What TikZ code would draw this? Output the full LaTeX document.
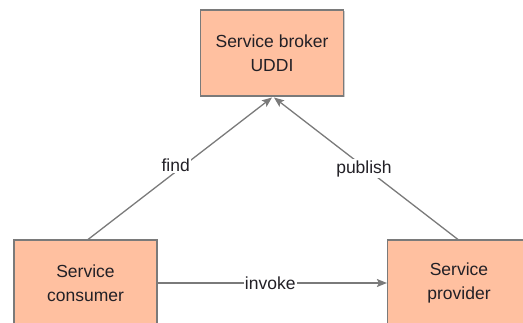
\documentclass[tikz,border=0pt]{standalone}
\usepackage{fontspec}
\setmainfont{Liberation Sans}
\usetikzlibrary{arrows.meta,shadows}
\definecolor{boxfill}{HTML}{FFC0A0}
\definecolor{edgegray}{HTML}{7A7A7A}
\definecolor{txt}{HTML}{222026}
\tikzset{
  svcbox/.style={draw=edgegray, line width=1.2pt, fill=boxfill, text=txt,
    minimum width=143pt, minimum height=86pt, align=center, inner sep=0pt,
    font=\fontsize{17.5}{23.5}\selectfont,
    drop shadow={shadow xshift=1.2pt, shadow yshift=-1.2pt, fill=gray, opacity=0.4}},
  conn/.style={draw=edgegray, line width=1.3pt,
    -{Stealth[length=10pt,width=8pt,inset=2pt]}},
  lbl/.style={fill=white, text=txt, inner sep=1pt, font=\fontsize{17.5}{20}\selectfont}
}
\begin{document}
\begin{tikzpicture}[x=1pt,y=-1pt]
\useasboundingbox (0,0) rectangle (523,322);
\node[svcbox] (broker) at (272,53) {Service broker\\UDDI};
\node[svcbox] (consumer) at (85.5,283) {Service\\consumer};
\node[svcbox] (provider) at (459,283) {Service\\provider};
\coordinate (tipA) at (272,97.5);
\coordinate (tipB) at (274,97.5);
\coordinate (cs) at (88,239.5);
\coordinate (ps) at (458,239.5);
\draw[conn] (cs) -- node[lbl, pos=0.52, xshift=-8pt] {find} (tipA);
\draw[conn] (ps) -- node[lbl, pos=0.5, xshift=-2pt] {publish} (tipB);
\draw[conn] (consumer.east |- 0,283) -- node[lbl, xshift=-2pt] {invoke} (provider.west |- 0,283);
\end{tikzpicture}
\end{document}
